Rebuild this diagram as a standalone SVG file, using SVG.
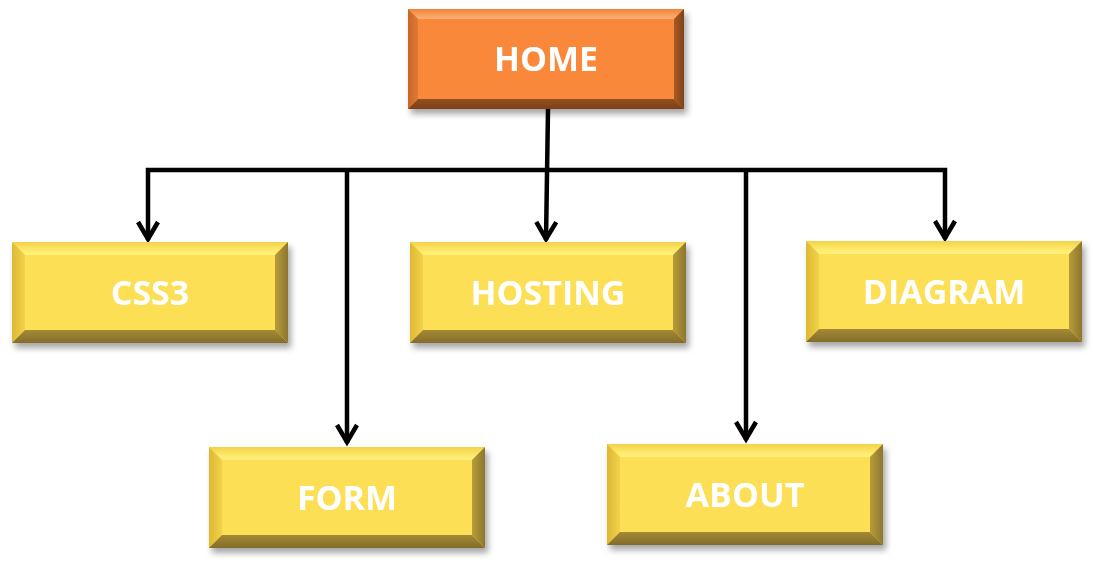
<svg xmlns="http://www.w3.org/2000/svg" width="1093" height="563" viewBox="0 0 1093 563">
<defs>
<filter id="sh" x="-10%" y="-10%" width="125%" height="135%">
<feDropShadow dx="3" dy="5" stdDeviation="3" flood-color="#000" flood-opacity="0.35"/>
</filter>
<linearGradient id="yTop" x1="0" y1="0" x2="0" y2="1"><stop offset="0" stop-color="#F3D24A"/><stop offset="0.7" stop-color="#FFEB6E"/><stop offset="1" stop-color="#FFF27E"/></linearGradient>
<linearGradient id="yLeft" x1="0" y1="0" x2="1" y2="0"><stop offset="0" stop-color="#DDB934"/><stop offset="1" stop-color="#F2D24A"/></linearGradient>
<linearGradient id="yRight" x1="0" y1="0" x2="1" y2="0"><stop offset="0" stop-color="#B89C3A"/><stop offset="1" stop-color="#8C762E"/></linearGradient>
<linearGradient id="yBot" x1="0" y1="0" x2="0" y2="1"><stop offset="0" stop-color="#A48A36"/><stop offset="1" stop-color="#826C2A"/></linearGradient>
<linearGradient id="oTop" x1="0" y1="0" x2="0" y2="1"><stop offset="0" stop-color="#F0843A"/><stop offset="0.7" stop-color="#FBA465"/><stop offset="1" stop-color="#FCB078"/></linearGradient>
<linearGradient id="oLeft" x1="0" y1="0" x2="1" y2="0"><stop offset="0" stop-color="#C8662A"/><stop offset="1" stop-color="#E07A34"/></linearGradient>
<linearGradient id="oRight" x1="0" y1="0" x2="1" y2="0"><stop offset="0" stop-color="#A85A24"/><stop offset="1" stop-color="#7E421A"/></linearGradient>
<linearGradient id="oBot" x1="0" y1="0" x2="0" y2="1"><stop offset="0" stop-color="#94501F"/><stop offset="1" stop-color="#7A4019"/></linearGradient>
<marker id="arr" viewBox="-22 -14 26 28" refX="0" refY="0" markerWidth="26" markerHeight="28" markerUnits="userSpaceOnUse" orient="auto-start-reverse" overflow="visible">
<path d="M-18,-10 L-1,0 L-18,10" fill="none" stroke="#000" stroke-width="4.5" stroke-linejoin="miter"/>
</marker>
</defs>
<style>
.lbl{font-family:"Open Sans","Liberation Sans",sans-serif;font-weight:700;font-size:34px;fill:#fff;text-anchor:middle}
.yf{fill:#FDDF55}.yt{fill:url(#yTop)}.yl{fill:url(#yLeft)}.yr{fill:url(#yRight)}.yb{fill:url(#yBot)}
.of{fill:#F9883A}.ot{fill:url(#oTop)}.ol{fill:url(#oLeft)}.or{fill:url(#oRight)}.ob{fill:url(#oBot)}
.ln{fill:none;stroke:#000;stroke-width:4.5;stroke-linejoin:miter}
</style>
<g id="connectors">
<path class="ln" d="M548,109 L546,240" marker-end="url(#arr)"/>
<path class="ln" d="M148,240 V170 H945 V239" marker-start="url(#arr)" marker-end="url(#arr)"/>
<path class="ln" d="M347,170 V443" marker-end="url(#arr)"/>
<path class="ln" d="M746,170 V440" marker-end="url(#arr)"/>
</g>
<g id="home" transform="translate(408,9)" filter="url(#sh)">
<rect class="of" x="0" y="0" width="276" height="100"/>
<polygon class="ot" points="0,0 276,0 266,10 10,10"/>
<polygon class="ol" points="0,0 10,10 10,90 0,100"/>
<polygon class="or" points="276,0 276,100 266,90 266,10"/>
<polygon class="ob" points="0,100 10,90 266,90 276,100"/>
<text class="lbl" x="138" y="62">HOME</text>
</g>
<g id="css3" transform="translate(12,242)" filter="url(#sh)">
<rect class="yf" x="0" y="0" width="276" height="101"/>
<polygon class="yt" points="0,0 276,0 263,13 13,13"/>
<polygon class="yl" points="0,0 13,13 13,88 0,101"/>
<polygon class="yr" points="276,0 276,101 263,88 263,13"/>
<polygon class="yb" points="0,101 13,88 263,88 276,101"/>
<text class="lbl" x="138" y="63">CSS3</text>
</g>
<g id="hosting" transform="translate(410,242)" filter="url(#sh)">
<rect class="yf" x="0" y="0" width="276" height="101"/>
<polygon class="yt" points="0,0 276,0 263,13 13,13"/>
<polygon class="yl" points="0,0 13,13 13,88 0,101"/>
<polygon class="yr" points="276,0 276,101 263,88 263,13"/>
<polygon class="yb" points="0,101 13,88 263,88 276,101"/>
<text class="lbl" x="138" y="63">HOSTING</text>
</g>
<g id="diagram" transform="translate(806,241)" filter="url(#sh)">
<rect class="yf" x="0" y="0" width="276" height="101"/>
<polygon class="yt" points="0,0 276,0 263,13 13,13"/>
<polygon class="yl" points="0,0 13,13 13,88 0,101"/>
<polygon class="yr" points="276,0 276,101 263,88 263,13"/>
<polygon class="yb" points="0,101 13,88 263,88 276,101"/>
<text class="lbl" x="138" y="63">DIAGRAM</text>
</g>
<g id="form" transform="translate(209,447)" filter="url(#sh)">
<rect class="yf" x="0" y="0" width="276" height="101"/>
<polygon class="yt" points="0,0 276,0 263,13 13,13"/>
<polygon class="yl" points="0,0 13,13 13,88 0,101"/>
<polygon class="yr" points="276,0 276,101 263,88 263,13"/>
<polygon class="yb" points="0,101 13,88 263,88 276,101"/>
<text class="lbl" x="138" y="63">FORM</text>
</g>
<g id="about" transform="translate(607,444)" filter="url(#sh)">
<rect class="yf" x="0" y="0" width="276" height="101"/>
<polygon class="yt" points="0,0 276,0 263,13 13,13"/>
<polygon class="yl" points="0,0 13,13 13,88 0,101"/>
<polygon class="yr" points="276,0 276,101 263,88 263,13"/>
<polygon class="yb" points="0,101 13,88 263,88 276,101"/>
<text class="lbl" x="138" y="63">ABOUT</text>
</g>
</svg>
